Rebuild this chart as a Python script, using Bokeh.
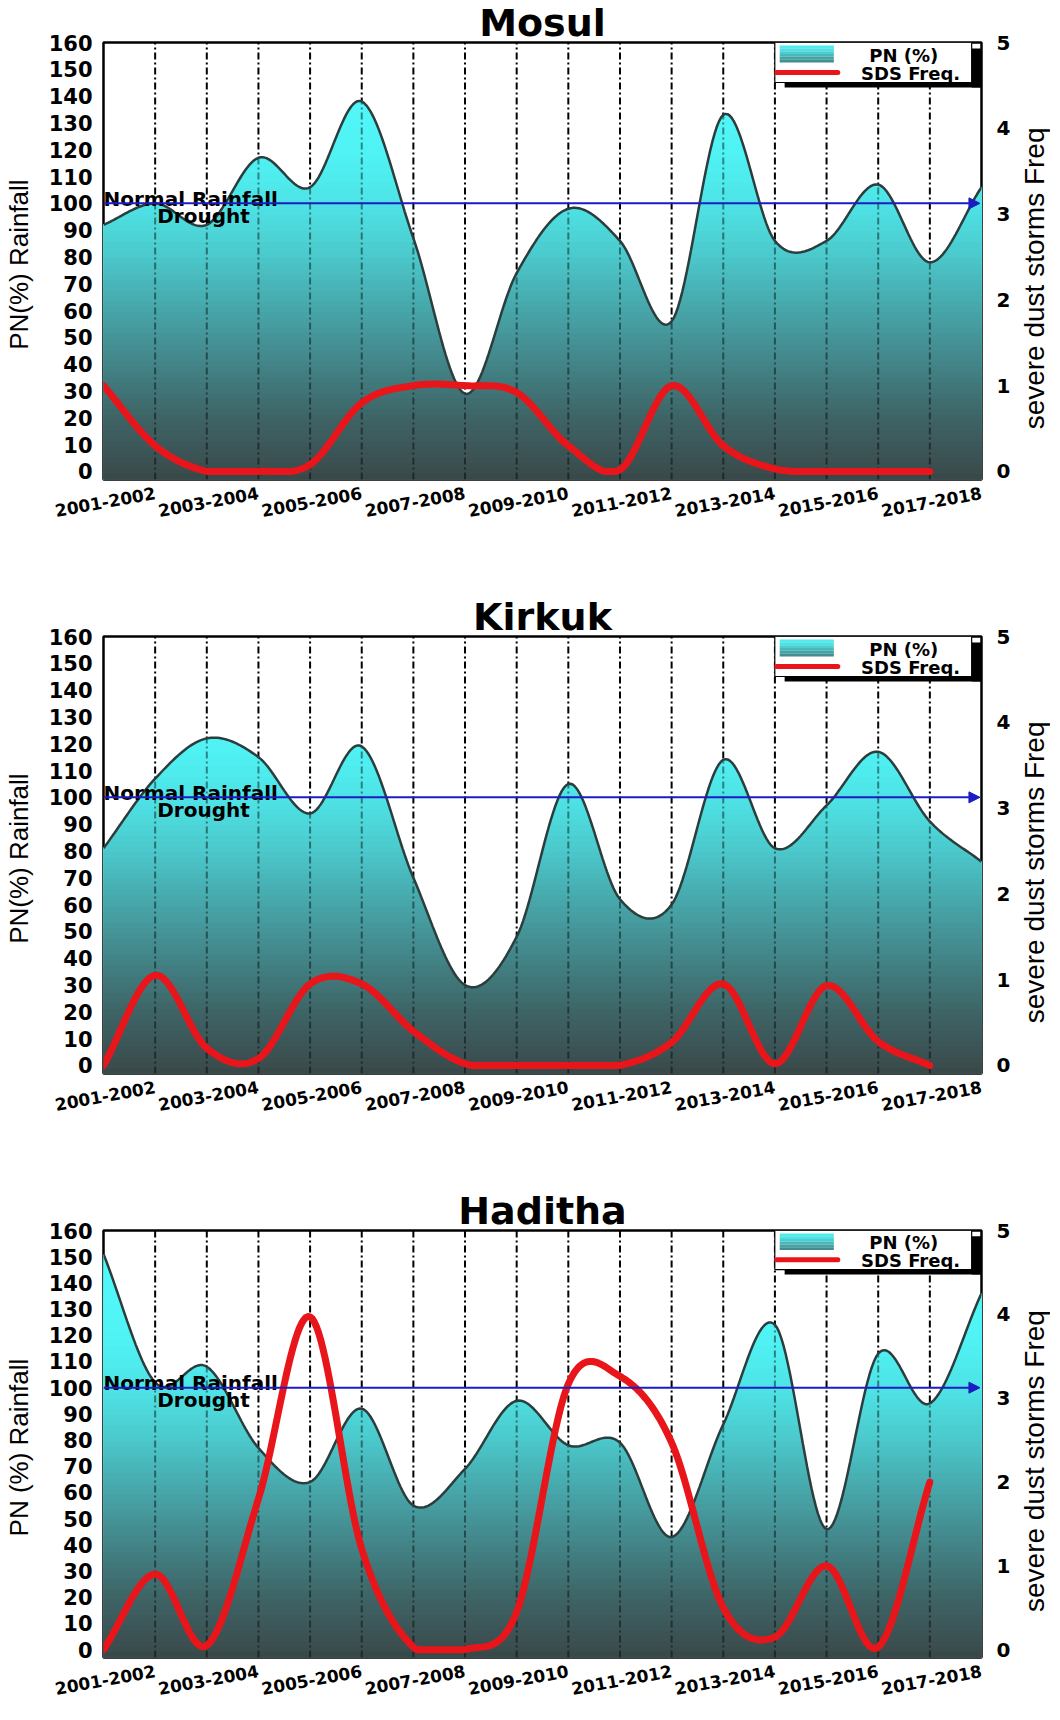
import numpy as np
from math import pi
from bokeh.plotting import figure
from bokeh.models import Range1d, LinearAxis, FixedTicker, Arrow, NormalHead
from bokeh.layouts import column, row
from bokeh.embed import file_html
from bokeh.resources import INLINE
from bokeh.core.properties import value

# ---------------- data ----------------
stations = ["Mosul", "Kirkuk", "Haditha"]
pn_index = list(range(18))        # x positions of PN (%) points
sds_index = list(range(17))       # x positions of SDS frequency points
tick_index = [1, 3, 5, 7, 9, 11, 13, 15, 17]
tick_labels = ["2001-2002", "2003-2004", "2005-2006", "2007-2008", "2009-2010",
               "2011-2012", "2013-2014", "2015-2016", "2017-2018"]
pn_ticks = list(range(0, 161, 10))
sds_ticks = [0, 1, 2, 3, 4, 5]

mosul_pn = [92, 100, 92, 117, 106, 138, 87, 29, 74, 98, 86, 56, 133, 86, 86, 107, 78, 106]
mosul_sds = [1, 0.3, 0, 0, 0.08, 0.8, 1, 1, 0.92, 0.3, 0.02, 1, 0.3, 0.03, 0, 0, 0]
kirkuk_pn = [81, 107, 122, 115, 94, 119, 70, 30, 48, 105, 62, 60, 114, 81, 97, 117, 91, 76]
kirkuk_sds = [0, 1.05, 0.2, 0.08, 0.95, 0.95, 0.4, 0.02, 0, 0, 0, 0.27, 0.95, 0.02, 0.93, 0.28, 0]
haditha_pn = [151, 102, 108, 77, 64, 92, 55, 69, 95, 78, 79, 43, 86, 124, 46, 113, 94, 136]
haditha_sds = [0, 0.9, 0.05, 1.8, 3.97, 1.2, 0.03, 0, 0.45, 3.17, 3.26, 2.47, 0.5, 0.15, 1.0, 0.03, 2.0]

pn_series = [mosul_pn, kirkuk_pn, haditha_pn]
sds_series = [mosul_sds, kirkuk_sds, haditha_sds]
pn_axis_labels = ["PN(%)  Rainfall", "PN(%)  Rainfall", "PN (%)  Rainfall"]
sds_axis_label = "severe dust storms Freq"
normal_level = 100

# ---------------- layout / style ----------------
TOTAL_W = 1050
FIG_W = 1013
SIDE_W = TOTAL_W - FIG_W
FRAME_W = 892
FRAME_H = 437
FIG_H = [594, 594, 516]
BORDER_L, BORDER_T = 93, 42
Y0, Y1 = -3, 160
X0, X1 = 0, 17
SDS_MAX = 5
BOLD = "DejaVu Sans"
PLAIN = "Liberation Sans"
RED = "#e8161a"
BLUE = "#1c1cc4"

grad_stops = [(-3, (56, 70, 71)), (0, (59, 76, 77)), (20, (62, 100, 102)),
              (40, (66, 132, 135)), (60, (71, 165, 168)), (80, (75, 200, 203)),
              (100, (78, 228, 230)), (120, (80, 243, 245)), (160, (82, 252, 252))]


def grad_color(v):
    for (a, ca), (b, cb) in zip(grad_stops[:-1], grad_stops[1:]):
        if a <= v <= b:
            t = (v - a) / (b - a)
            c = [int(round(ca[i] + t * (cb[i] - ca[i]))) for i in range(3)]
            return "#%02x%02x%02x" % tuple(c)
    return "#%02x%02x%02x" % grad_stops[-1][1]


def smooth(xv, yv, n=24):
    x = np.asarray(xv, float)
    y = np.asarray(yv, float)
    m = np.gradient(y, x)
    xs, ys = [], []
    t = np.linspace(0, 1, n, endpoint=False)
    h00 = 2 * t**3 - 3 * t**2 + 1
    h10 = t**3 - 2 * t**2 + t
    h01 = -2 * t**3 + 3 * t**2
    h11 = t**3 - t**2
    for i in range(len(x) - 1):
        h = x[i + 1] - x[i]
        xs.append(x[i] + t * h)
        ys.append(h00 * y[i] + h10 * h * m[i] + h01 * y[i + 1] + h11 * h * m[i + 1])
    xs.append([x[-1]])
    ys.append([y[-1]])
    return np.concatenate(xs), np.concatenate(ys)


def make_panel(name, pn, sds, ylab, fig_h):
    bottom = fig_h - BORDER_T - FRAME_H
    p = figure(width=FIG_W, height=fig_h, output_backend="svg", toolbar_location=None,
               x_range=Range1d(X0, X1), y_range=Range1d(Y0, Y1),
               min_border_left=BORDER_L, min_border_right=FIG_W - BORDER_L - FRAME_W,
               min_border_top=BORDER_T, min_border_bottom=bottom,
               background_fill_color="white", border_fill_color="white")
    p.extra_y_ranges = {"sds": Range1d(Y0 * SDS_MAX / Y1, SDS_MAX)}
    p.xgrid.visible = False
    p.ygrid.visible = False
    p.outline_line_color = "black"
    p.outline_line_width = 2.5

    p.title.text = name
    p.title.align = "center"
    p.title.offset = 8
    p.title.text_font = BOLD
    p.title.text_font_style = "bold"
    p.title.text_font_size = "38px"
    p.title.text_color = "black"
    p.title.standoff = -4

    # axes
    xa = p.xaxis[0]
    xa.ticker = FixedTicker(ticks=tick_index)
    xa.major_label_overrides = {k: lab for k, lab in zip(tick_index, tick_labels)}
    xa.major_label_orientation = 0.18
    xa.major_label_standoff = 7
    ya = p.yaxis[0]
    ya.ticker = FixedTicker(ticks=pn_ticks)
    ya.axis_label = ylab
    ya.axis_label_standoff = 12
    ya.major_label_standoff = 5
    ra = LinearAxis(y_range_name="sds", ticker=FixedTicker(ticks=sds_ticks))
    ra.major_label_standoff = 9
    p.add_layout(ra, "right")
    for ax in (xa, ya, ra):
        ax.axis_line_color = None
        ax.major_tick_line_color = None
        ax.minor_tick_line_color = None
        ax.major_label_text_font = BOLD
        ax.major_label_text_font_style = "bold"
        ax.major_label_text_color = "black"
        ax.axis_label_text_font = PLAIN
        ax.axis_label_text_font_style = "normal"
        ax.axis_label_text_color = "black"
        ax.axis_label_text_font_size = "26px"
    xa.major_label_text_font_size = "17px"
    ya.major_label_text_font_size = "21px"
    ra.major_label_text_font_size = "20px"

    # vertical dash-dot season lines (under the fill)
    inner = pn_index[1:-1]
    p.segment(x0=inner, y0=[Y0] * len(inner), x1=inner, y1=[Y1] * len(inner),
              line_color="black", line_width=2, line_dash="7 3 2 3")

    # gradient-filled PN area
    xs, ys = smooth(pn_index, pn)
    edges = np.linspace(Y0, Y1, 82)
    for i in range(len(edges) - 1, 0, -1):
        top = edges[i]
        mid = 0.5 * (edges[i - 1] + edges[i])
        p.varea(x=xs, y1=np.full_like(ys, Y0), y2=np.minimum(ys, top),
                fill_color=grad_color(mid), fill_alpha=1.0)

    # season lines seen through the fill
    p.segment(x0=inner, y0=[Y0] * len(inner), x1=inner, y1=[pn[k] for k in inner],
              line_color="black", line_alpha=0.45, line_width=2, line_dash="7 3 2 3")
    p.line(xs, ys, line_color="#2b3d3d", line_width=2.5)

    # normal rainfall reference
    p.add_layout(Arrow(x_start=X0, y_start=normal_level, x_end=16.97, y_end=normal_level,
                       line_color=BLUE, line_width=2,
                       end=NormalHead(size=11, fill_color=BLUE, line_color=BLUE)))
    p.text(x=[0.0], y=[normal_level + 1.8], text=["Normal Rainfall"],
           text_font=value(BOLD), text_font_style="bold", text_font_size="20px",
           text_baseline="alphabetic", text_align="left", text_color="black")
    p.text(x=[1.04], y=[normal_level - 4.8], text=["Drought"],
           text_font=value(BOLD), text_font_style="bold", text_font_size="20px",
           text_baseline="alphabetic", text_align="left", text_color="black")

    # SDS frequency
    sx, sy = smooth(sds_index, sds)
    sy = np.maximum(sy, 0)
    p.line(sx, sy, y_range_name="sds", line_color=RED, line_width=7,
           line_cap="round", line_join="round")

    # legend box (drawn in frame pixel offsets)
    def fx(px):
        return X0 + px * (X1 - X0) / FRAME_W

    def fy(py):
        return Y1 - py * (Y1 - Y0) / FRAME_H

    p.quad(left=[fx(882)], right=[fx(892)], top=[fy(6)], bottom=[fy(45)],
           fill_color="black", line_color=None)
    p.quad(left=[fx(692)], right=[fx(892)], top=[fy(40)], bottom=[fy(45)],
           fill_color="black", line_color=None)
    p.quad(left=[fx(682)], right=[fx(882)], top=[fy(0)], bottom=[fy(40)],
           fill_color="white", line_color="black", line_width=1.2)
    sw = np.linspace(3, 20, 7)
    for j in range(6):
        p.quad(left=[fx(687)], right=[fx(742)], top=[fy(sw[j])], bottom=[fy(sw[j + 1])],
               fill_color=grad_color(110 - j * 13), line_color=None)
    p.line(x=[fx(684), fx(746)], y=[fy(30), fy(30)], line_color=RED,
           line_width=5, line_cap="round")
    p.text(x=[fx(813)], y=[fy(12.5)], text=["PN (%)"], text_font=value(BOLD),
           text_font_style="bold", text_font_size="18px", text_align="center",
           text_baseline="middle", text_color="black")
    p.text(x=[fx(820)], y=[fy(31)], text=["SDS Freq."], text_font=value(BOLD),
           text_font_style="bold", text_font_size="18px", text_align="center",
           text_baseline="middle", text_color="black")

    # right-hand axis title (reads bottom to top), in a narrow companion figure
    s = figure(width=SIDE_W, height=fig_h, output_backend="svg", toolbar_location=None,
               x_range=Range1d(0, 1), y_range=Range1d(Y0, Y1),
               min_border_left=0, min_border_right=0,
               min_border_top=BORDER_T, min_border_bottom=bottom,
               background_fill_color="white", border_fill_color="white")
    s.axis.visible = False
    s.grid.visible = False
    s.outline_line_color = None
    s.text(x=[0.58], y=[72], text=[sds_axis_label], angle=pi / 2,
           text_font=value(PLAIN), text_font_size="28px", text_align="center",
           text_baseline="middle", text_color="black")
    return row(p, s, spacing=0)


panels = [make_panel(n, pn, sd, yl, h)
          for n, pn, sd, yl, h in zip(stations, pn_series, sds_series, pn_axis_labels, FIG_H)]
layout = column(*panels, spacing=0)
open("out.html", "w").write(file_html(layout, INLINE))
